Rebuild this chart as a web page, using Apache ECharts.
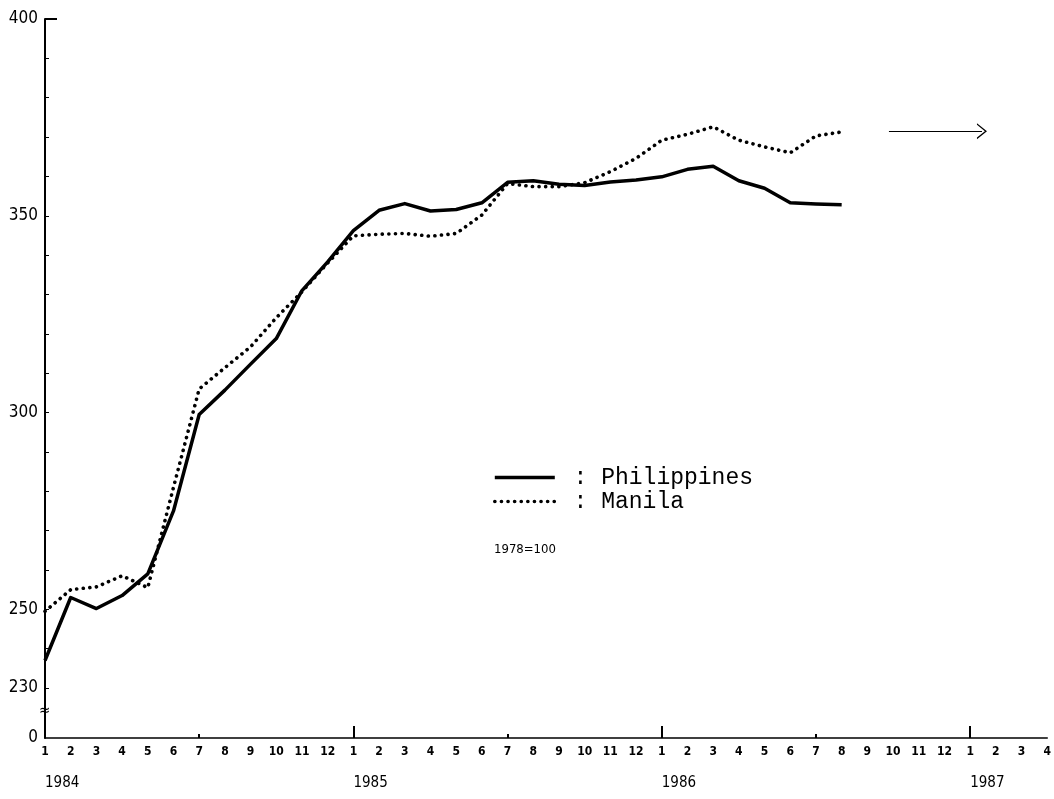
<!DOCTYPE html>
<html>
<head>
<meta charset="utf-8">
<script src="https://cdn.jsdelivr.net/npm/echarts@6/dist/echarts.min.js"></script>
<style>
html,body{margin:0;padding:0;background:#fff;}
#chart{width:1054px;height:799px;}
</style>
</head>
<body>
<div id="chart"></div>
<script>
// Months on the horizontal axis (Jan 1984 .. Apr 1987)
const periods = [
  '1984-01','1984-02','1984-03','1984-04','1984-05','1984-06','1984-07','1984-08','1984-09','1984-10','1984-11','1984-12',
  '1985-01','1985-02','1985-03','1985-04','1985-05','1985-06','1985-07','1985-08','1985-09','1985-10','1985-11','1985-12',
  '1986-01','1986-02','1986-03','1986-04','1986-05','1986-06','1986-07','1986-08','1986-09','1986-10','1986-11','1986-12',
  '1987-01','1987-02','1987-03','1987-04'
];
// Consumer price index, 1978 = 100 (Jan 1984 .. Aug 1986)
const philippines = [237, 253, 250.2, 253.5, 259, 275, 299.5, 305.7, 312.3, 318.8, 331, 338.3,
  346.2, 351.4, 353.1, 351.2, 351.6, 353.3, 358.5, 358.9, 358, 357.7, 358.6, 359.1,
  359.9, 361.8, 362.6, 358.9, 357, 353.3, 353, 352.8];
const manila = [249.5, 255, 255.7, 258.5, 255.5, 281, 306, 311.4, 316.7, 324.1, 330.7, 338,
  344.9, 345.3, 345.5, 344.8, 345.5, 350.2, 358.2, 357.4, 357.4, 358.4, 361.2, 364.6,
  369.2, 370.7, 372.6, 369.2, 367.5, 366, 370.3, 371.3];
const seriesNames = ['Philippines', 'Manila'];
// Y tick labels; the lowest value stands for the broken-axis "0"
const axisZero = 217.3;
const yLabelValues = [axisZero, 230, 250, 300, 350, 400];
const yMinorTicks = [230, 240, 250, 260, 270, 280, 290, 300, 310, 320, 330, 340, 350, 360, 370, 380, 390, 400];
const yearStarts = [0, 12, 24, 36];
const midYearTicks = [6, 18, 30];
const baseNote = '1978=100';
// Arrow annotation (continuation) at level of Manila index
const arrowLevel = 371.5;
const arrowFrom = 32.84, arrowTo = 36.46;

const condensed = '"DejaVu Sans Condensed", "Liberation Sans Narrow", "DejaVu Sans", sans-serif';
const chart = echarts.init(document.getElementById('chart'), null, {renderer: 'canvas'});

const toPairs = arr => arr.map((v, i) => [i, v]);
const solidStyle = {color: '#000', width: 3.5, join: 'round'};
const dottedStyle = {color: '#000', width: 3.6, type: [0.1, 6.5], cap: 'round'};

chart.setOption({
  backgroundColor: '#ffffff',
  animation: false,
  grid: {left: 45, right: 6, top: 19, bottom: 61, containLabel: false},
  title: {
    text: baseNote, left: 489, top: 538,
    textStyle: {fontFamily: condensed, fontSize: 13, fontWeight: 'normal', color: '#000'}
  },
  legend: {
    orient: 'vertical', left: 488, top: 461,
    itemWidth: 60, itemHeight: 14, itemGap: 1,
    formatter: ' : {name}',
    itemStyle: {opacity: 0},
    textStyle: {fontFamily: '"Liberation Mono", "DejaVu Sans Mono", monospace', fontSize: 23, lineHeight: 22, color: '#000'},
    data: [
      {name: seriesNames[0], lineStyle: solidStyle, itemStyle: {opacity: 0}},
      {name: seriesNames[1], lineStyle: dottedStyle, itemStyle: {opacity: 0}}
    ]
  },
  xAxis: [{
    type: 'value', min: 0, max: periods.length - 1, interval: 1,
    axisLine: {show: true, lineStyle: {color: '#000', width: 1.5}},
    axisTick: {show: true, inside: true, length: 4, customValues: midYearTicks, lineStyle: {color: '#000', width: 2}},
    splitLine: {show: false},
    axisLabel: {
      margin: 8, color: '#000', fontFamily: condensed, fontSize: 12, fontWeight: 'bold',
      formatter: v => String(parseInt(periods[v].slice(5), 10))
    }
  }, {
    type: 'value', min: 0, max: periods.length - 1, position: 'bottom',
    axisLine: {show: false},
    axisTick: {show: true, inside: true, length: 12, customValues: yearStarts.slice(1), lineStyle: {color: '#000', width: 2}},
    splitLine: {show: false},
    axisLabel: {
      customValues: yearStarts, margin: 38, align: 'left', color: '#000',
      fontFamily: condensed, fontSize: 15, formatter: v => periods[v].slice(0, 4)
    }
  }],
  yAxis: [{
    type: 'value', min: axisZero, max: 400,
    axisLine: {show: true, lineStyle: {color: '#000', width: 2}},
    axisTick: {show: true, inside: true, length: 4, customValues: yMinorTicks, lineStyle: {color: '#000', width: 1}},
    splitLine: {show: false},
    axisLabel: {
      customValues: yLabelValues, margin: 7, color: '#000', fontFamily: condensed, fontSize: 17,
      formatter: v => (v < 225 ? '0' : String(Math.round(v)))
    }
  }, {
    type: 'value', min: axisZero, max: 400, position: 'left',
    axisLine: {show: false},
    axisTick: {show: true, inside: true, length: 12, customValues: [400], lineStyle: {color: '#000', width: 2}},
    axisLabel: {show: false},
    splitLine: {show: false}
  }],
  graphic: [{
    type: 'text', left: 39, top: 704,
    style: {text: '≈', fontSize: 15, fill: '#000', fontFamily: condensed}
  }],
  series: [{
    name: seriesNames[0], type: 'line', data: toPairs(philippines),
    showSymbol: false, symbol: 'none',
    lineStyle: solidStyle,
    itemStyle: {color: '#000'}
  }, {
    name: seriesNames[1], type: 'line', data: toPairs(manila),
    showSymbol: false, symbol: 'none',
    lineStyle: dottedStyle,
    itemStyle: {color: '#000'},
    markLine: {
      silent: true, animation: false,
      symbol: ['none', 'path://M0,12 L10,0 L20,12 L18,12 L10,2.5 L2,12 Z'],
      symbolSize: [16, 10],
      label: {show: false},
      lineStyle: {color: '#000', width: 1, type: 'solid'},
      data: [[{coord: [arrowFrom, arrowLevel]}, {coord: [arrowTo, arrowLevel]}]]
    }
  }]
});
</script>
</body>
</html>
